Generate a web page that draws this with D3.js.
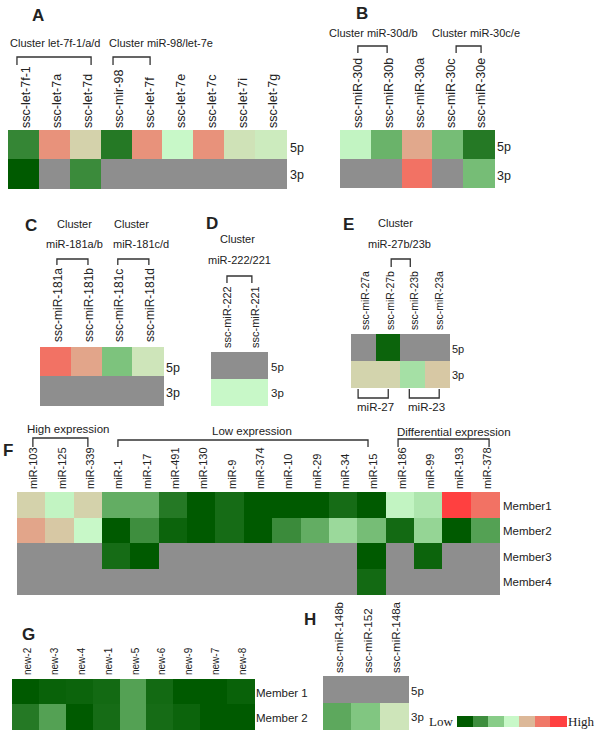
<!DOCTYPE html>
<html><head><meta charset="utf-8">
<script src="https://cdn.jsdelivr.net/npm/d3@7"></script>
<style>
html,body{margin:0;padding:0;background:#fff;}
svg{display:block;font-family:"Liberation Sans",Arial,sans-serif;}
</style></head>
<body>
<svg id="c" width="600" height="734"></svg>
<script>
// ---- Colour legend (levels 0 = Low ... 6 = High); null = not detected (gray)
const legendLevels = [0, 1, 2, 3, 4, 5, 6];
const legendColors = ["#005a00", "#3e8e3e", "#88cc88", "#c8f8c8", "#dcb898", "#f07868", "#ff4040"];
const naColor = "#8e8e8e";

// ---- Panel A
const aCols = ["ssc-let-7f-1", "ssc-let-7a", "ssc-let-7d", "ssc-mir-98", "ssc-let-7f", "ssc-let-7e", "ssc-let-7c", "ssc-let-7i", "ssc-let-7g"];
const aRows = ["5p", "3p"];
const a5p = [0.85, 4.6, 3.6, 0.6, 4.6, 3.0, 4.6, 3.35, 3.2];
const a3p = [0.0, null, 0.95, null, null, null, null, null, null];
const aClusters = ["Cluster let-7f-1/a/d", "Cluster miR-98/let-7e"];

// ---- Panel B
const bCols = ["ssc-miR-30d", "ssc-miR-30b", "ssc-miR-30a", "ssc-miR-30c", "ssc-miR-30e"];
const bRows = ["5p", "3p"];
const b5p = [2.9, 1.6, 4.25, 1.75, 0.6];
const b3p = [null, null, 5.1, null, 1.75];
const bClusters = ["Cluster miR-30d/b", "Cluster miR-30c/e"];

// ---- Panel C
const cCols = ["ssc-miR-181a", "ssc-miR-181b", "ssc-miR-181c", "ssc-miR-181d"];
const cRows = ["5p", "3p"];
const c5p = [5.1, 4.3, 1.85, 3.3];
const c3p = [null, null, null, null];
const cClusters = [["Cluster", "miR-181a/b"], ["Cluster", "miR-181c/d"]];

// ---- Panel D
const dCols = ["ssc-miR-222", "ssc-miR-221"];
const dRows = ["5p", "3p"];
const d5p = [null, null];
const d3p = [3.0, 3.0];
const dClusters = [["Cluster", "miR-222/221"]];

// ---- Panel E
const eCols = ["ssc-miR-27a", "ssc-miR-27b", "ssc-miR-23b", "ssc-miR-23a"];
const eRows = ["5p", "3p"];
const e5p = [null, 0.2, null, null];
const e3p = [3.56, 3.56, 2.45, 3.75];
const eClusters = [["Cluster", "miR-27b/23b"]];
const eFamilies = ["miR-27", "miR-23"];

// ---- Panel F
const fCols = ["miR-103", "miR-125", "miR-339", "miR-1", "miR-17", "miR-491", "miR-130", "miR-9", "miR-374", "miR-10", "miR-29", "miR-34", "miR-15", "miR-186", "miR-99", "miR-193", "miR-378"];
const fRows = ["Member1", "Member2", "Member3", "Member4"];
const fMember1 = [3.6, 2.9, 3.6, 1.5, 1.5, 0.6, 0.0, 0.35, 0.0, 0.0, 0.0, 0.35, 0.0, 2.9, 2.6, 6.0, 5.1];
const fMember2 = [4.3, 3.75, 3.0, 0.0, 1.0, 0.2, 0.0, 0.35, 0.0, 0.95, 1.5, 2.3, 1.75, 0.3, 2.2, 0.0, 1.3];
const fMember3 = [null, null, null, 0.35, 0.0, null, null, null, null, null, null, null, 0.0, null, 0.2, null, null];
const fMember4 = [null, null, null, null, null, null, null, null, null, null, null, null, 0.3, null, null, null, null];
const fGroups = ["High expression", "Low expression", "Differential expression"];

// ---- Panel G
const gCols = ["new-2", "new-3", "new-4", "new-1", "new-5", "new-6", "new-9", "new-7", "new-8"];
const gRows = ["Member 1", "Member 2"];
const gMember1 = [0.0, 0.15, 0.2, 0.3, 1.3, 0.3, 0.0, 0.0, 0.15];
const gMember2 = [0.6, 1.3, 0.0, 0.35, 1.3, 0.35, 0.2, 0.0, 0.0];

// ---- Panel H
const hCols = ["ssc-miR-148b", "ssc-miR-152", "ssc-miR-148a"];
const hRows = ["5p", "3p"];
const h5p = [null, null, null];
const h3p = [1.42, 1.9, 3.3];

// ---------------------------------------------------------------
const svg = d3.select("#c");
const color = d3.scaleLinear().domain(legendLevels).range(legendColors).interpolate(d3.interpolateRgb);
const ink = "#222";

function heat(p) {
  const g = svg.append("g");
  const x = d3.scaleBand().domain(p.cols).range([p.x0, p.x1]);
  const y = d3.scaleBand().domain(p.rows).range([p.y0, p.y1]);
  const u = d3.scaleLinear().domain([0, p.cols.length]).range([p.x0, p.x1]);
  const cells = [];
  p.values.forEach((row, ri) => row.forEach((v, ci) => cells.push({r: p.rows[ri], c: p.cols[ci], v})));
  g.selectAll("rect.cell").data(cells).join("rect")
    .attr("class", "cell")
    .attr("x", d => x(d.c)).attr("y", d => y(d.r))
    .attr("width", x.bandwidth() + 0.6).attr("height", y.bandwidth() + 0.6)
    .attr("shape-rendering", "crispEdges")
    .attr("fill", d => d.v == null ? naColor : color(d.v));
  // column labels (rotated)
  g.selectAll("text.col").data(p.cols).join("text")
    .attr("class", "col")
    .attr("transform", d => `translate(${x(d) + x.bandwidth() / 2},${p.y0 - p.labelGap}) rotate(-90)`)
    .attr("dy", p.labelDy)
    .attr("font-size", p.labelSize)
    .attr("fill", ink)
    .text(d => d);
  // row labels
  g.selectAll("text.row").data(p.rows).join("text")
    .attr("class", "row")
    .attr("x", p.x1 + p.rowLabelGap)
    .attr("y", (d, i) => y(d) + y.bandwidth() / 2 + (p.rowLabelShift ? p.rowLabelShift[i] : 0))
    .attr("dy", "0.35em")
    .attr("font-size", p.rowLabelSize)
    .attr("fill", ink)
    .text(d => d);
  // brackets (in column units)
  (p.brackets || []).forEach(b => {
    g.append("path")
      .attr("d", `M${u(b.a)},${b.open}V${b.close}H${u(b.b)}V${b.open}`)
      .attr("fill", "none").attr("stroke", "#333").attr("stroke-width", 1.3);
  });
  return {g, x, y, u};
}

function txt(s, x, y, size, opts = {}) {
  svg.append("text").attr("x", x).attr("y", y)
    .attr("font-size", size)
    .attr("font-weight", opts.bold ? "bold" : null)
    .attr("text-anchor", opts.anchor || "start")
    .attr("font-family", opts.family || null)
    .attr("fill", ink)
    .text(s);
}

// Panel letters
[["A", 32, 21], ["B", 356, 19], ["C", 25, 231], ["D", 206, 229], ["E", 343, 230], ["F", 3, 456], ["G", 22, 640], ["H", 304, 625]]
  .forEach(([s, x, y]) => txt(s, x, y, 17, {bold: true}));

// A
heat({cols: aCols, rows: aRows, values: [a5p, a3p], x0: 8, x1: 286, y0: 130, y1: 188,
  labelSize: 12.5, labelGap: 2, labelDy: "0.55em", rowLabelGap: 4, rowLabelSize: 12.5, rowLabelShift: [3, 1.5],
  brackets: [{a: 0.29, b: 2.69, close: 57, open: 65}, {a: 3.40, b: 4.60, close: 57, open: 65}]});
txt(aClusters[0], 10, 47, 11);
txt(aClusters[1], 109, 47, 11);

// B
heat({cols: bCols, rows: bRows, values: [b5p, b3p], x0: 340, x1: 494, y0: 130, y1: 187,
  labelSize: 12.5, labelGap: 2, labelDy: "0.55em", rowLabelGap: 3, rowLabelSize: 12.5, rowLabelShift: [2.5, 2.5],
  brackets: [{a: 0.58, b: 1.53, close: 46, open: 53}, {a: 3.77, b: 4.58, close: 46, open: 53}]});
txt(bClusters[0], 329, 37, 11);
txt(bClusters[1], 432, 37, 11);

// C
heat({cols: cCols, rows: cRows, values: [c5p, c3p], x0: 40, x1: 163, y0: 347, y1: 405,
  labelSize: 12, labelGap: 5, labelDy: "0.55em", rowLabelGap: 3, rowLabelSize: 12.5, rowLabelShift: [6, 2.5],
  brackets: [{a: 0.55, b: 1.56, close: 259, open: 265}, {a: 2.53, b: 3.54, close: 259, open: 265}]});
txt(cClusters[0][0], 57, 228, 11); txt(cClusters[0][1], 46, 248, 11);
txt(cClusters[1][0], 114, 228, 11); txt(cClusters[1][1], 113, 248, 11);

// D
heat({cols: dCols, rows: dRows, values: [d5p, d3p], x0: 211, x1: 267, y0: 352, y1: 405,
  labelSize: 11, labelGap: 4, labelDy: "0.55em", rowLabelGap: 4, rowLabelSize: 11.5, rowLabelShift: [2, 1.5],
  brackets: [{a: 0.57, b: 1.46, close: 276, open: 283}]});
txt(dClusters[0][0], 220, 243, 11); txt(dClusters[0][1], 208, 264, 11);

// E
const e = heat({cols: eCols, rows: eRows, values: [e5p, e3p], x0: 351, x1: 449, y0: 334, y1: 387,
  labelSize: 10.5, labelGap: 4, labelDy: "0.55em", rowLabelGap: 3, rowLabelSize: 11, rowLabelShift: [1.5, 1],
  brackets: [{a: 1.64, b: 2.42, close: 259, open: 267},
             {a: 0.29, b: 1.52, close: 398, open: 389}, {a: 2.38, b: 3.60, close: 398, open: 389}]});
txt(eClusters[0][0], 378, 227, 11); txt(eClusters[0][1], 368, 248, 11);
txt(eFamilies[0], 357, 411, 11.5); txt(eFamilies[1], 408, 411, 11.5);

// F
heat({cols: fCols, rows: fRows, values: [fMember1, fMember2, fMember3, fMember4], x0: 17, x1: 499, y0: 492, y1: 594,
  labelSize: 11, labelGap: 3, labelDy: "0.55em", rowLabelGap: 4, rowLabelSize: 11.5, rowLabelShift: [1, 1, 1, 1],
  brackets: [{a: 0.56, b: 2.50, close: 438, open: 447}, {a: 3.56, b: 12.38, close: 440, open: 447},
             {a: 13.44, b: 16.65, close: 439, open: 447}]});
txt(fGroups[0], 27, 433, 11.5);
txt(fGroups[1], 212, 435, 11.5);
txt(fGroups[2], 397, 436, 11.5);

// G
heat({cols: gCols, rows: gRows, values: [gMember1, gMember2], x0: 12, x1: 254, y0: 679, y1: 729,
  labelSize: 10, labelGap: 4, labelDy: "0.55em", rowLabelGap: 2, rowLabelSize: 11.5, rowLabelShift: [1.5, 1.5]});

// H
heat({cols: hCols, rows: hRows, values: [h5p, h3p], x0: 323, x1: 408, y0: 676, y1: 729,
  labelSize: 11.5, labelGap: 3, labelDy: "0.55em", rowLabelGap: 3, rowLabelSize: 11.5, rowLabelShift: [2, 1.5]});

// Legend
const lx = d3.scaleBand().domain(legendLevels).range([457, 566]);
svg.append("g").selectAll("rect").data(legendLevels).join("rect")
  .attr("x", d => lx(d)).attr("y", 716).attr("width", lx.bandwidth() + 0.5).attr("height", 11)
  .attr("shape-rendering", "crispEdges")
  .attr("fill", d => color(d));
txt("Low", 429, 726, 13, {family: "'Liberation Serif','Times New Roman',serif"});
txt("High", 568, 726, 13, {family: "'Liberation Serif','Times New Roman',serif"});
</script>
</body></html>
